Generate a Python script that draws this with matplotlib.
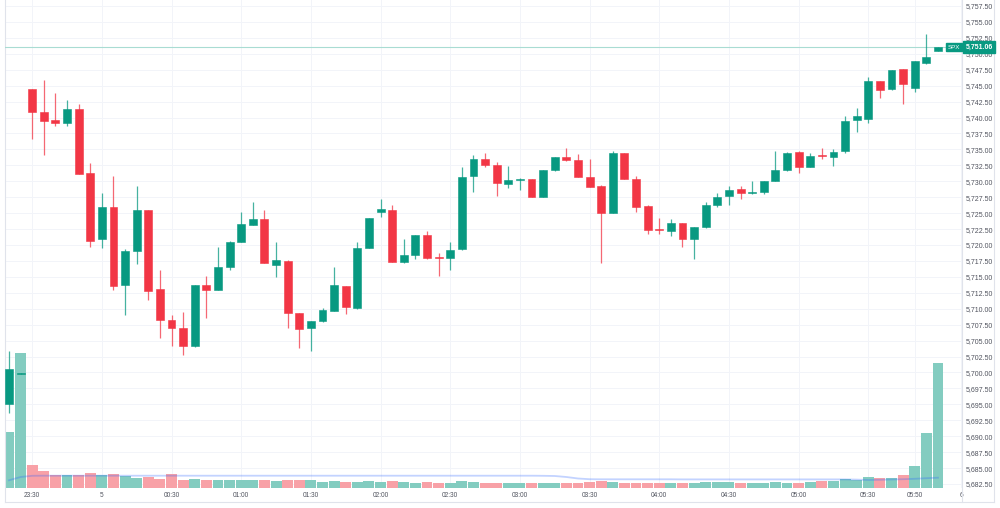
import matplotlib
matplotlib.use("Agg")
import matplotlib.pyplot as plt
import numpy as np

plt.rcParams['font.family'] = ['Liberation Sans', 'DejaVu Sans']

# ---- data (5-minute candles, SPX) ----
opens = [5695.0, 5699.8,
         5744.4, 5740.8, 5739.6, 5739.1, 5741.3, 5731.3, 5720.9, 5726.0, 5713.7, 5719.0,
         5725.5, 5713.1, 5708.2, 5707.0, 5704.2, 5713.8, 5713.0, 5716.6, 5720.4, 5723.1,
         5724.1, 5716.9, 5717.5, 5709.3, 5706.9, 5708.1, 5709.6, 5713.6, 5710.1, 5719.6,
         5725.1, 5725.5, 5717.3, 5718.4, 5721.6, 5718.0, 5717.9, 5719.3, 5730.8, 5733.5,
         5732.6, 5729.5, 5730.15, 5730.3, 5727.5, 5731.7, 5733.8, 5733.4, 5730.7, 5729.3,
         5725.0, 5734.4, 5730.3, 5726.1, 5722.4, 5722.2, 5723.4, 5720.9, 5722.8, 5726.3,
         5727.7, 5728.8, 5728.2, 5728.3, 5730.1, 5731.7, 5734.6, 5732.3, 5734.1, 5733.8,
         5734.7, 5739.6, 5739.7, 5745.7, 5744.4, 5747.6, 5744.6, 5748.6, 5750.4]
highs = [5703.3, 5699.95,
         5744.4, 5745.9, 5743.8, 5742.75, 5742.1, 5732.8, 5728.1, 5730.8, 5719.3, 5729.3,
         5725.5, 5716.1, 5709.0, 5709.5, 5713.7, 5715.1, 5719.7, 5720.6, 5725.1, 5726.75,
         5725.5, 5720.5, 5717.6, 5709.3, 5708.1, 5710.1, 5716.6, 5713.6, 5720.4, 5724.3,
         5727.2, 5726.3, 5720.9, 5721.6, 5722.2, 5718.7, 5720.4, 5732.2, 5734.1, 5734.5,
         5733.0, 5732.4, 5730.5, 5730.4, 5731.8, 5733.8, 5735.2, 5734.3, 5733.5, 5729.4,
         5734.75, 5734.4, 5730.8, 5726.2, 5724.3, 5724.1, 5723.5, 5722.9, 5726.8, 5728.2,
         5729.2, 5729.3, 5730.0, 5730.1, 5734.8, 5734.6, 5734.7, 5734.4, 5735.2, 5735.0,
         5740.2, 5741.5, 5746.3, 5745.8, 5747.5, 5747.6, 5748.9, 5753.1, 5751.06]
lows = [5693.6, 5699.75,
        5736.6, 5734.1, 5738.6, 5738.6, 5731.1, 5719.7, 5719.5, 5712.9, 5709.0, 5717.0,
        5711.4, 5705.4, 5704.2, 5702.7, 5704.0, 5708.6, 5712.9, 5716.0, 5720.4, 5723.1,
        5717.1, 5715.0, 5707.0, 5703.8, 5703.4, 5707.9, 5709.6, 5709.1, 5710.0, 5719.6,
        5724.4, 5717.3, 5717.2, 5717.8, 5717.8, 5715.1, 5716.0, 5719.2, 5728.3, 5732.2,
        5727.7, 5729.0, 5728.7, 5727.5, 5727.5, 5731.6, 5733.1, 5730.6, 5729.1, 5717.2,
        5725.0, 5730.3, 5725.2, 5721.8, 5721.7, 5721.4, 5719.7, 5717.75, 5722.7, 5725.9,
        5726.3, 5727.2, 5728.0, 5728.0, 5730.0, 5731.6, 5731.3, 5732.2, 5733.45, 5732.4,
        5734.5, 5737.8, 5739.1, 5743.1, 5744.3, 5742.1, 5744.0, 5748.4, 5750.4]
closes = [5700.5, 5699.9,
          5740.8, 5739.4, 5739.1, 5741.3, 5731.1, 5720.6, 5726.0, 5713.6, 5719.0, 5725.5,
          5712.8, 5708.2, 5706.9, 5704.2, 5713.7, 5713.0, 5716.6, 5720.4, 5723.3, 5724.1,
          5717.1, 5717.6, 5709.3, 5706.8, 5708.1, 5709.8, 5713.8, 5710.2, 5719.6, 5724.3,
          5725.6, 5717.3, 5718.4, 5721.6, 5717.9, 5717.9, 5719.2, 5730.7, 5733.5, 5732.6,
          5729.7, 5730.2, 5730.25, 5727.5, 5731.7, 5733.8, 5733.3, 5730.6, 5729.1, 5725.0,
          5734.4, 5730.3, 5725.9, 5722.3, 5722.3, 5723.4, 5720.9, 5722.8, 5726.3, 5727.6,
          5728.7, 5728.2, 5728.3, 5730.1, 5731.7, 5734.5, 5732.2, 5734.0, 5734.0, 5734.6,
          5739.5, 5740.2, 5745.7, 5744.3, 5747.5, 5745.2, 5748.8, 5749.5, 5751.06]
volume = [55.7, 135.3,
          22.7, 17.0, 13.4, 13.4, 12.7, 14.7, 12.7, 13.7, 12.3, 10.0,
          11.0, 9.3, 13.7, 8.3, 8.7, 8.3, 8.3, 7.7, 8.3, 8.3,
          7.7, 7.3, 7.7, 7.7, 8.3, 6.0, 7.3, 5.7, 6.3, 6.7,
          6.3, 6.7, 5.7, 5.0, 5.7, 5.3, 4.7, 7.3, 6.3, 5.0,
          5.0, 5.0, 5.3, 4.7, 4.7, 4.7, 5.3, 5.3, 6.0, 7.3,
          5.7, 4.7, 4.7, 4.7, 5.3, 4.7, 5.3, 5.0, 6.0, 6.0,
          6.0, 5.3, 5.0, 4.7, 6.0, 5.3, 5.0, 6.0, 6.7, 6.7,
          8.7, 7.7, 10.7, 9.7, 10.5, 13.2, 22.2, 54.7, 125.0]
volume_ma = [7.7, 11.0,
             12.2, 12.3, 12.3, 12.3, 12.3, 12.3, 12.3, 12.3, 12.3, 12.3,
             12.3, 12.3, 12.3, 12.3, 12.3, 12.3, 12.3, 12.3, 12.3, 12.3,
             12.3, 12.3, 12.3, 12.3, 12.3, 12.3, 12.3, 12.3, 12.3, 12.3,
             12.3, 12.3, 12.3, 12.3, 12.3, 12.3, 12.3, 12.3, 12.3, 12.3,
             12.3, 12.3, 12.3, 12.3, 12.2, 12.0, 11.0, 9.5, 8.8, 8.7,
             8.7, 8.7, 8.7, 8.7, 8.7, 8.7, 8.6, 8.6, 8.6, 8.6,
             8.6, 8.6, 8.6, 8.6, 8.6, 8.6, 8.6, 8.6, 8.6, 8.6,
             8.6, 8.4, 8.0, 8.2, 8.5, 8.8, 9.2, 9.8, 10.3]
tick_labels = ["23:30", "5", "00:30", "01:00", "01:30", "02:00", "02:30", "03:00",
               "03:30", "04:00", "04:30", "05:00", "05:30", "05:50", "6"]
tick_candle = [0, 6, 12, 18, 24, 30, 36, 42, 48, 54, 60, 66, 72, 76, 80]
price_ticks = [5682.5 + 2.5 * k for k in range(31)]
symbol = "SPX"
last_price = closes[-1]

# ---- styling ----
UP = '#089981'
DN = '#F23645'
GRID = '#f2f4f9'
TXT = '#50535e'
BORDER = '#e0e3eb'

o = np.array(opens); h = np.array(highs); l = np.array(lows); c = np.array(closes)
idx = np.arange(len(o)) - 2
up = c >= o
col = np.where(up, UP, DN)

W, H = 1000, 508
fig = plt.figure(figsize=(W / 100, H / 100), dpi=100)
fig.patch.set_facecolor('white')

pl, pr, pt, pb = 5, 962, 0, 488
rect = [pl / W, 1 - pb / H, (pr - pl) / W, (pb - pt) / H]

ax = fig.add_axes(rect)
ax.set_facecolor('white')

# volume layer (twin of the price axes)
axv = ax.twinx()
axv.set_zorder(ax.get_zorder() + 1)
axv.patch.set_visible(False)
axv.set_ylim(0, max(volume) * 3.607)
axv.set_yticks([])
for s in axv.spines.values():
    s.set_visible(False)

ax.set_xlim(-2.342, 80.07)
ax.set_ylim(5681.87, 5758.44)
for s in ax.spines.values():
    s.set_visible(False)
ax.yaxis.tick_right()
ax.yaxis.set_label_position('right')
ax.set_yticks(price_ticks)
ax.set_yticklabels([f"{p:,.2f}" for p in price_ticks])
ax.tick_params(axis='y', which='both', left=False, labelleft=False, right=False,
               labelright=True, length=0, pad=3, labelsize=5.0, labelcolor=TXT)
ax.set_xticks(tick_candle)
ax.set_xticklabels(tick_labels)
ax.tick_params(axis='x', length=0, pad=3, labelsize=4.7, labelcolor=TXT)
ax.grid(True, color=GRID, lw=0.7)
ax.set_axisbelow(True)

vcol = np.where(up, '#83ccc0', '#f8a1a7')
axv.bar(idx, volume, width=0.94, color=vcol, edgecolor='none', zorder=1)
axv.plot(idx, volume_ma, color='#2962ff', alpha=0.28, lw=1.3, zorder=2)

# candle layer
axc = fig.add_axes(rect, sharex=ax, sharey=ax)
axc.set_zorder(axv.get_zorder() + 1)
axc.patch.set_visible(False)
axc.axis('off')
axc.vlines(idx, l, h, colors=col, lw=0.9, alpha=0.75, zorder=2)
body_lo = np.minimum(o, c)
body_h = np.maximum(np.abs(c - o), 0.15)
axc.bar(idx, body_h, bottom=body_lo, width=0.68, color=col, edgecolor=col,
        lw=0.4, zorder=3)
axc.axhline(last_price, color='#a9dcd3', lw=0.8, zorder=1)

# last price labels
axc.annotate(f"{last_price:,.2f}", xy=(1.0, last_price), xycoords=('axes fraction', 'data'),
             xytext=(2.5, 0), textcoords='offset points', ha='left', va='center',
             fontsize=5.0, color='white', fontweight='bold', annotation_clip=False,
             bbox=dict(boxstyle='square,pad=0.3', fc=UP, ec=UP), zorder=10)
axc.annotate(symbol, xy=(1.0, last_price), xycoords=('axes fraction', 'data'),
             xytext=(-1.2, 0), textcoords='offset points', ha='right', va='center',
             fontsize=4.5, color='white', annotation_clip=False,
             bbox=dict(boxstyle='square,pad=0.3', fc=UP, ec=UP), zorder=10)

# frame lines
def fline(x0, y0, x1, y1):
    fig.add_artist(plt.Line2D([x0 / W, x1 / W], [1 - y0 / H, 1 - y1 / H],
                              color=BORDER, lw=0.8, transform=fig.transFigure))

fline(5, 0, 5, 502)
fline(5, 502, 994, 502)
fline(994, 0, 994, 502)
fline(962, 0, 962, 502)

fig.savefig('out.png', dpi=100, facecolor='white')
